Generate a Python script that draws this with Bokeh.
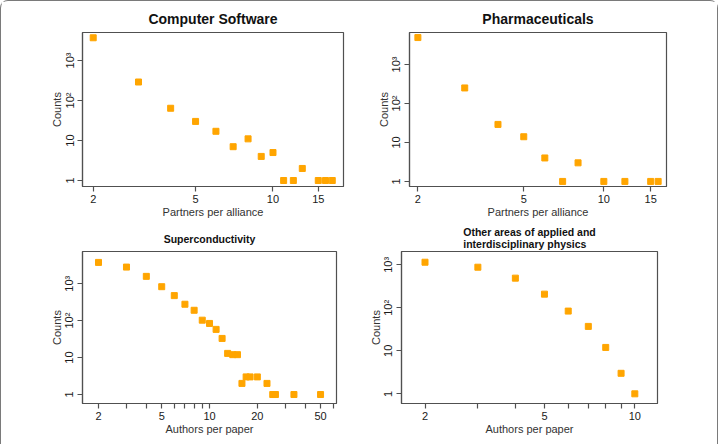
from bokeh.embed import file_html
from bokeh.layouts import column, row
from bokeh.models import FixedTicker, Range1d, Title
from bokeh.plotting import figure
from bokeh.resources import INLINE

FONT = "Liberation Sans"
MARKER_COLOR = "#FFA500"
FRAME_COLOR = "#505050"

# Alliance sizes: computer software
software_partners = [2, 3, 4, 5, 6, 7, 8, 9, 10, 11, 12, 13, 15, 16, 17]
software_counts = [3700, 290, 64, 30, 17, 7, 11, 4, 5, 1, 1, 2, 1, 1, 1]

# Alliance sizes: pharmaceuticals
pharma_partners = [2, 3, 4, 5, 6, 7, 8, 10, 12, 15, 16]
pharma_counts = [4900, 250, 29, 14, 4, 1, 3, 1, 1, 1, 1]

# Authors per paper: superconductivity
supercond_authors = [2, 3, 4, 5, 6, 7, 8, 9, 10, 11, 12, 13, 14, 15, 16, 17,
                     18, 20, 23, 25, 26, 34, 50]
supercond_counts = [3770, 2820, 1580, 830, 476, 278, 191, 103, 84, 58, 33, 13,
                    12, 12, 2, 3, 3, 3, 2, 1, 1, 1, 1]

# Authors per paper: other areas of applied and interdisciplinary physics
applied_authors = [2, 3, 4, 5, 6, 7, 8, 9, 10]
applied_counts = [1150, 880, 490, 208, 84, 37, 12, 3, 1]

# Axis ticks and their labels
count_ticks = [1, 10, 100, 1000]
count_tick_labels = ["1", "10", "10²", "10³"]

alliance_ticks = [2, 5, 10, 15]
alliance_tick_labels = ["2", "5", "10", "15"]

supercond_ticks = [2, 3, 4, 5, 6, 7, 8, 9, 10, 20, 30, 40, 50, 60]
supercond_tick_labels = ["2", "", "", "5", "", "", "", "", "10", "20", "", "",
                         "50", ""]

applied_ticks = [2, 3, 4, 5, 6, 7, 8, 9, 10]
applied_tick_labels = ["2", "", "", "5", "", "", "", "", "10"]


def lift_title(title, gap):
    """Raise a title above the frame by padding the bottom of its box."""
    if "padding" not in Title.properties():
        return False
    for pad in ({"left": 0, "right": 0, "top": 0, "bottom": gap},
                (0, 0, gap, 0)):
        try:
            title.padding = pad
            return True
        except (ValueError, TypeError):
            continue
    return False


def make_panel(xs, ys, xticks, xtick_labels, xlabel, title, title_size, gap,
               x_range, y_range, width, left, right, top, bottom):
    p = figure(width=width, height=222,
               x_axis_type="log", y_axis_type="log",
               x_range=Range1d(*x_range), y_range=Range1d(*y_range),
               title=title, output_backend="svg", toolbar_location=None,
               min_border_left=left, min_border_right=right,
               min_border_top=top, min_border_bottom=bottom)

    p.scatter(xs, ys, marker="square", size=6,
              fill_color=MARKER_COLOR, line_color=MARKER_COLOR)

    p.grid.visible = False
    p.outline_line_color = FRAME_COLOR
    p.outline_line_width = 1.2
    p.outline_line_alpha = 1.0
    p.background_fill_color = "white"
    p.border_fill_color = "white"

    p.title.text_font = FONT
    p.title.text_font_size = title_size
    p.title.text_font_style = "bold"
    p.title.text_color = "#111111"
    p.title.align = "center"
    p.title.standoff = 0
    if gap and not lift_title(p.title, gap):
        p.title.standoff = gap

    for ax in (p.xaxis[0], p.yaxis[0]):
        ax.axis_line_color = FRAME_COLOR
        ax.axis_line_width = 1.2
        ax.major_tick_line_color = FRAME_COLOR
        ax.major_tick_line_width = 1.2
        ax.major_tick_out = 5
        ax.major_tick_in = 0
        ax.minor_tick_line_color = None
        ax.major_label_text_font = FONT
        ax.major_label_text_font_size = "11px"
        ax.major_label_text_color = "#1a1a1a"
        ax.axis_label_text_font = FONT
        ax.axis_label_text_font_size = "11px"
        ax.axis_label_text_font_style = "normal"
        ax.axis_label_text_color = "#333333"

    xa = p.xaxis[0]
    xa.ticker = FixedTicker(ticks=xticks, minor_ticks=[])
    xa.major_label_overrides = dict(zip(xticks, xtick_labels))
    xa.major_label_standoff = 3
    xa.axis_label = xlabel
    xa.axis_label_standoff = 0

    ya = p.yaxis[0]
    ya.ticker = FixedTicker(ticks=count_ticks, minor_ticks=[])
    ya.major_label_overrides = dict(zip(count_ticks, count_tick_labels))
    ya.major_label_orientation = "vertical"
    ya.major_label_standoff = 2
    ya.axis_label = "Counts"
    ya.axis_label_standoff = -2
    return p


p1 = make_panel(software_partners, software_counts,
                alliance_ticks, alliance_tick_labels, "Partners per alliance",
                "Computer Software", "14px", 6,
                (1.817, 18.8), (10 ** -0.15, 10 ** 3.7),
                360, 81, 18, 31, 37)

p2 = make_panel(pharma_partners, pharma_counts,
                alliance_ticks, alliance_tick_labels, "Partners per alliance",
                "Pharmaceuticals", "14px", 6,
                (1.86, 17.2), (10 ** -0.13, 10 ** 3.82),
                356, 48, 51, 31, 37)

p3 = make_panel(supercond_authors, supercond_counts,
                supercond_ticks, supercond_tick_labels, "Authors per paper",
                "Superconductivity", "10.5px", 7,
                (1.586, 63.0), (10 ** -0.243, 10 ** 3.872),
                360, 81, 25, 27, 42)

p4 = make_panel(applied_authors, applied_counts,
                applied_ticks, applied_tick_labels, "Authors per paper",
                "Other areas of applied and\ninterdisciplinary physics", "10.5px", 2,
                (1.67, 11.9), (10 ** -0.225, 10 ** 3.31),
                356, 40, 60, 28, 42)

layout = column(
    row(p1, p2),
    row(p3, p4),
    styles={
        "border-top": "1px solid #7a7a7a",
        "border-left": "1px solid #7a7a7a",
        "border-right": "1px solid #7a7a7a",
        "border-top-left-radius": "8px",
        "border-top-right-radius": "8px",
    },
)

with open("out.html", "w") as f:
    f.write(file_html(layout, INLINE))
